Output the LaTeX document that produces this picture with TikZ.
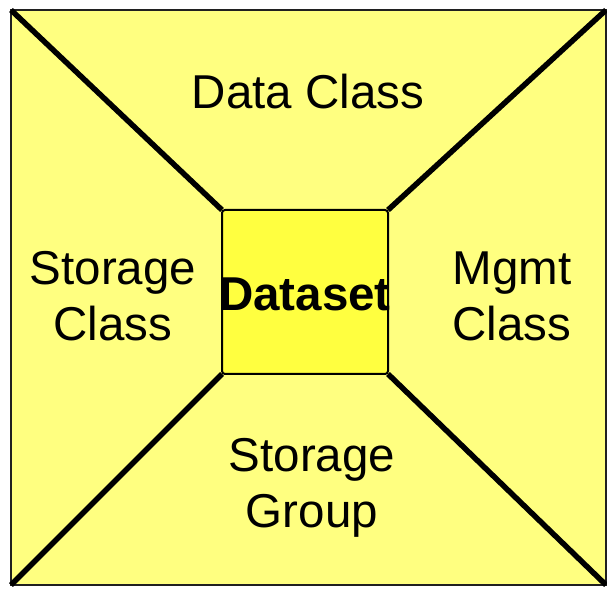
\documentclass[tikz,border=0pt]{standalone}
\usepackage{fontspec}
\setmainfont{Liberation Sans}
\definecolor{outerfill}{HTML}{FFFF80}
\definecolor{innerfill}{HTML}{FFFF40}
\definecolor{edge}{HTML}{202020}
\begin{document}
\begin{tikzpicture}[x=1pt,y=1pt,
  lbl/.style={align=center,font=\fontsize{47.5}{56}\selectfont,inner sep=0pt},
  diag/.style={line width=5.5pt,black}]
\useasboundingbox (0,0) rectangle (607,589);
\coordinate (o1) at (11,579);
\coordinate (o2) at (606,579);
\coordinate (o3) at (606,4);
\coordinate (o4) at (11,4);
\fill[outerfill] (o4) rectangle (o2);
\draw[edge,line width=1.5pt] (o4) rectangle (o2);
\coordinate (i1) at (222,379);
\coordinate (i2) at (388,379);
\coordinate (i3) at (388,215);
\coordinate (i4) at (222,215);
\draw[diag] (o1) -- (i1);
\draw[diag] (o2) -- (i2);
\draw[diag] (o3) -- (i3);
\draw[diag] (o4) -- (i4);
\draw[fill=innerfill,line width=2pt,rounded corners=3pt] (i4) rectangle (i2);
\node[lbl] (data) at (308,497) {Data Class};
\node[lbl] (stc) at (113,293) {Storage\\Class};
\node[lbl] (mgmt) at (512,293) {Mgmt\\Class};
\node[lbl] (stg) at (312,101) {Storage\\Group};
\node[lbl,font=\bfseries\fontsize{47.5}{56}\selectfont] (ds) at (305,295) {Dataset};
\end{tikzpicture}
\end{document}
